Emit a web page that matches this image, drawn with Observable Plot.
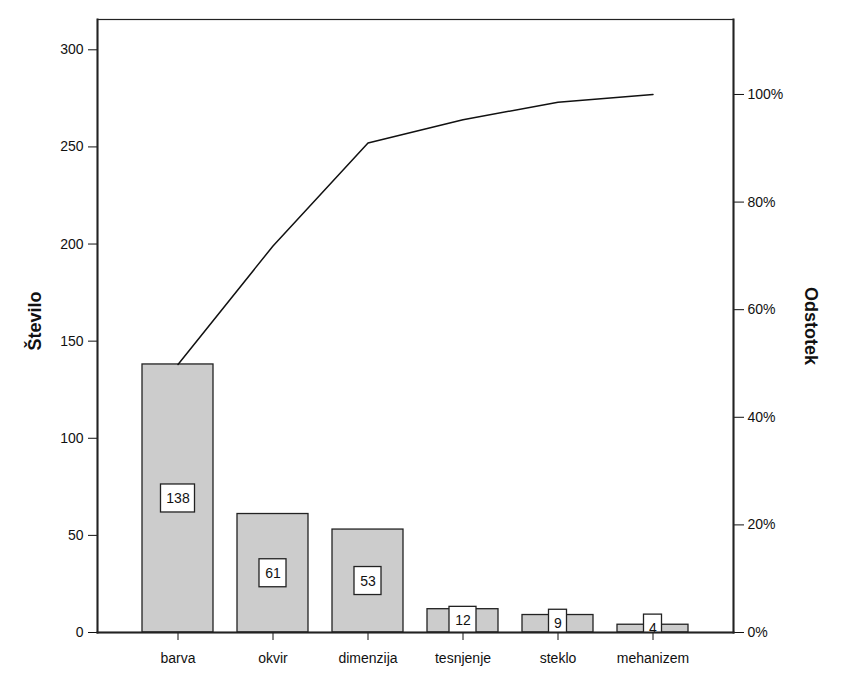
<!DOCTYPE html>
<html>
<head>
<meta charset="utf-8">
<script src="https://cdn.jsdelivr.net/npm/d3@7"></script>
<script src="https://cdn.jsdelivr.net/npm/@observablehq/plot@0.6"></script>
<style>
  html, body { margin: 0; padding: 0; background: #fff; }
  #chart svg { display: block; }
</style>
</head>
<body>
<div id="chart"></div>
<script>
const categories = ["barva", "okvir", "dimenzija", "tesnjenje", "steklo", "mehanizem"];
const counts = [138, 61, 53, 12, 9, 4];
const percentTicks = [0, 20, 40, 60, 80, 100];
const leftTicks = [0, 50, 100, 150, 200, 250, 300];
const yTitle = "Število";
const y2Title = "Odstotek";

const total = d3.sum(counts);
const cumulative = d3.cumsum(counts);
const data = categories.map((c, i) => ({cat: c, n: counts[i], cum: cumulative[i], mid: counts[i] / 2, label: String(counts[i])}));

const boxWidth = {1: 18, 2: 27, 3: 34};
const bandW = 71;
const labelBoxes = [1, 2, 3].map(len => Plot.rect(data.filter(d => d.label.length === len), {
  x: "cat", y1: "mid", y2: "mid",
  insetLeft: (bandW - boxWidth[len]) / 2, insetRight: (bandW - boxWidth[len]) / 2,
  insetTop: -14, insetBottom: -14,
  fill: "white", stroke: "#222", strokeWidth: 1.3, clip: "frame"
}));

const chart = Plot.plot({
  width: 849,
  height: 689,
  marginLeft: 97,
  marginRight: 116,
  marginTop: 19,
  marginBottom: 57,
  style: {fontFamily: "'Liberation Sans', Arial, sans-serif", fontSize: "14px", color: "#111", background: "white"},
  x: {domain: categories, paddingInner: 0.255, paddingOuter: 0.455, label: null},
  y: {domain: [0, 315.6], label: null},
  marks: [
    Plot.barY(data, {x: "cat", y: "n", fill: "#cccccc", stroke: "#222", strokeWidth: 1.3}),
    ...labelBoxes,
    Plot.text(data, {x: "cat", y: "mid", text: "label", fontSize: 14, fill: "#111"}),
    Plot.line(data, {x: "cat", y: "cum", stroke: "#111", strokeWidth: 1.5}),
    Plot.axisX({tickSize: 8, tickPadding: 13, label: null, fontSize: 14}),
    Plot.axisY({anchor: "left", ticks: leftTicks, tickSize: 9, tickPadding: 5, label: null, fontSize: 14}),
    Plot.axisY({anchor: "right", ticks: percentTicks.map(p => p / 100 * total), tickFormat: v => Math.round(v / total * 100) + "%", tickSize: 10, tickPadding: 4, label: null, fontSize: 14}),
    Plot.frame({stroke: "#222", strokeWidth: 1.2}),
    Plot.frame({anchor: "left", stroke: "#222", strokeWidth: 2}),
    Plot.frame({anchor: "right", stroke: "#222", strokeWidth: 2}),
    Plot.frame({anchor: "bottom", stroke: "#222", strokeWidth: 2}),
    Plot.text([yTitle], {text: d => d, frameAnchor: "left", textAnchor: "middle", dx: -62, dy: -5, rotate: -90, fontWeight: "bold", fontSize: 18, fill: "#111"}),
    Plot.text([y2Title], {text: d => d, frameAnchor: "right", textAnchor: "middle", dx: 77, rotate: 90, fontWeight: "bold", fontSize: 18, fill: "#111"})
  ]
});
document.getElementById("chart").appendChild(chart);
</script>
</body>
</html>
